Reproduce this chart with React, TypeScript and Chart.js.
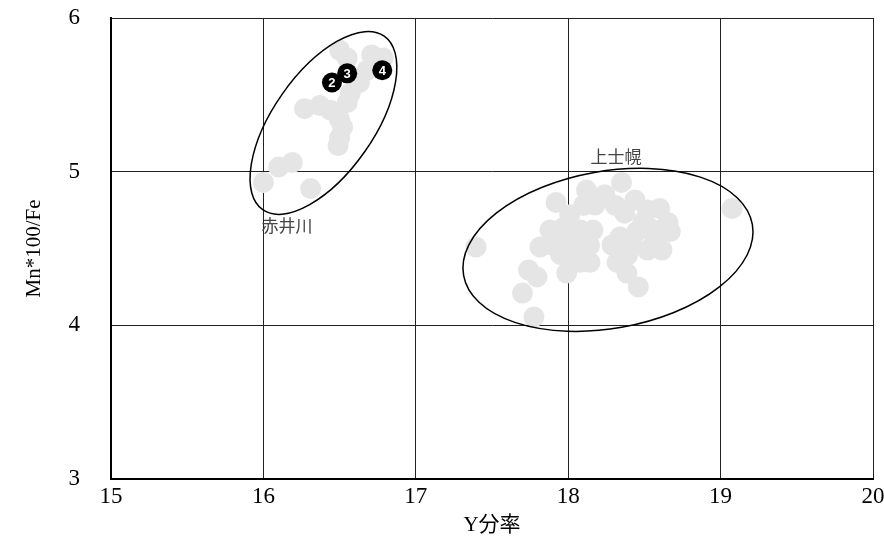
import { useEffect, useRef } from "react";
import { Chart, registerables } from "chart.js";
Chart.register(...registerables);

// 上士幌 group
const kamishihoroX = [17.395, 17.92, 18.01, 18.1, 17.88, 17.815, 17.98, 18.08, 18.14, 17.99, 18.08, 17.95, 17.74, 17.795, 17.7, 17.775, 18.12, 18.35, 18.24, 18.31, 18.37, 18.52, 18.6, 18.655, 18.67, 18.615, 18.52, 18.32, 18.385, 18.46, 18.34, 18.45, 18.54, 18.42, 19.075, 17.966, 18.045, 17.9, 18.163, 18.025, 18.143, 18.176, 18.438, 18.49, 18.57, 18.39, 18.287];
const kamishihoroY = [4.51, 4.8, 4.72, 4.78, 4.62, 4.51, 4.556, 4.62, 4.52, 4.34, 4.41, 4.46, 4.36, 4.315, 4.21, 4.055, 4.88, 4.93, 4.85, 4.78, 4.73, 4.75, 4.76, 4.67, 4.61, 4.49, 4.49, 4.41, 4.34, 4.25, 4.575, 4.61, 4.63, 4.52, 4.76, 4.634, 4.523, 4.52, 4.62, 4.425, 4.41, 4.783, 4.816, 4.673, 4.556, 4.458, 4.523];

// 赤井川 group
const akaigawaX = [16.5, 16.55, 16.71, 16.785, 16.68, 16.63, 16.57, 16.55, 16.27, 16.37, 16.44, 16.5, 16.5, 16.49, 16.0, 16.1, 16.19, 16.31, 16.52, 16.75];
const akaigawaY = [5.79, 5.74, 5.76, 5.74, 5.66, 5.58, 5.51, 5.45, 5.41, 5.43, 5.4, 5.34, 5.22, 5.17, 4.93, 5.03, 5.06, 4.89, 5.29, 5.7];

// numbered samples
const numberedX = [16.45, 16.55, 16.78];
const numberedY = [5.58, 5.64, 5.66];
const numberedLabels = ["2", "3", "4"];

// ticks
const xTicks = [15, 16, 17, 18, 19, 20];
const yTicks = [3, 4, 5, 6];

// group labels and ellipses
const groupLabels = ["赤井川", "上士幌"];
const groupLabelX = [16.155, 18.314];
const groupLabelY = [4.647, 5.096];
const ellipseCenterX = [16.394, 18.261];
const ellipseCenterY = [5.317, 4.491];
const ellipseSemiMajor = [0.695, 0.962];
const ellipseSemiMinor = [0.33, 0.516];
const ellipseAngleDeg = [55, 10];

const SERIF = "'Liberation Serif', 'Noto Sans CJK JP', serif";

export default function App() {
  const ref = useRef<HTMLCanvasElement | null>(null);
  useEffect(() => {
    if (!ref.current) return;
    const overlay = {
      id: "overlay",
      afterDatasetsDraw(chart: any) {
        const ctx = chart.ctx;
        const xs = chart.scales.x;
        const ys = chart.scales.y;
        const pxu = Math.abs(xs.getPixelForValue(1) - xs.getPixelForValue(0));
        ctx.save();
        // numbers in black dots
        const meta = chart.getDatasetMeta(2);
        ctx.fillStyle = "#fff";
        ctx.font = "bold 13px 'Liberation Sans', sans-serif";
        ctx.textAlign = "center";
        ctx.textBaseline = "middle";
        meta.data.forEach((el: any, i: number) => {
          ctx.fillText(numberedLabels[i], el.x, el.y + 1);
        });
        // ellipses
        ctx.strokeStyle = "#000";
        ctx.lineWidth = 1.5;
        for (let i = 0; i < ellipseCenterX.length; i++) {
          ctx.beginPath();
          ctx.ellipse(
            xs.getPixelForValue(ellipseCenterX[i]),
            ys.getPixelForValue(ellipseCenterY[i]),
            ellipseSemiMajor[i] * pxu,
            ellipseSemiMinor[i] * pxu,
            (-ellipseAngleDeg[i] * Math.PI) / 180,
            0,
            Math.PI * 2
          );
          ctx.stroke();
        }
        // group labels
        ctx.fillStyle = "#444";
        ctx.font = "17px 'Noto Sans CJK JP', sans-serif";
        for (let i = 0; i < groupLabels.length; i++) {
          ctx.fillText(groupLabels[i], xs.getPixelForValue(groupLabelX[i]), ys.getPixelForValue(groupLabelY[i]));
        }
        ctx.restore();
      },
    };
    const chart = new Chart(ref.current, {
      type: "scatter",
      data: {
        datasets: [
          {
            label: "上士幌",
            data: kamishihoroX.map((x, i) => ({ x, y: kamishihoroY[i] })),
            backgroundColor: "#e5e5e5",
            borderWidth: 0,
            pointRadius: 10.5,
            pointHoverRadius: 10.5,
            order: 2,
          },
          {
            label: "赤井川",
            data: akaigawaX.map((x, i) => ({ x, y: akaigawaY[i] })),
            backgroundColor: "#e5e5e5",
            borderWidth: 0,
            pointRadius: 10.5,
            pointHoverRadius: 10.5,
            order: 1,
          },
          {
            label: "No.",
            data: numberedX.map((x, i) => ({ x, y: numberedY[i] })),
            backgroundColor: "#000",
            borderWidth: 0,
            pointRadius: 10,
            pointHoverRadius: 10,
            order: 0,
          },
        ],
      },
      options: {
        responsive: false,
        animation: false,
        events: [],
        layout: { padding: { top: 18, right: 11, left: 0, bottom: 0 } },
        plugins: { legend: { display: false }, tooltip: { enabled: false } },
        scales: {
          x: {
            type: "linear",
            min: 15,
            max: 20,
            afterBuildTicks: (s: any) => {
              s.ticks = xTicks.map((v) => ({ value: v }));
            },
            afterFit: (s: any) => {
              s.height = 63;
              s.paddingLeft = 0;
              s.paddingRight = 0;
            },
            ticks: { font: { family: SERIF, size: 23 }, color: "#000", padding: 4, maxRotation: 0 },
            grid: { color: "#222", lineWidth: 1, drawTicks: false },
            border: { color: "#000", width: 2 },
            title: {
              display: true,
              text: "Y分率",
              color: "#000",
              font: { family: SERIF, size: 21 },
              padding: { top: 0, bottom: 4 },
            },
          },
          y: {
            type: "linear",
            min: 3,
            max: 6,
            afterBuildTicks: (s: any) => {
              s.ticks = yTicks.map((v) => ({ value: v }));
            },
            afterFit: (s: any) => {
              s.width = 111;
              s.paddingTop = 0;
              s.paddingBottom = 0;
            },
            ticks: { font: { family: SERIF, size: 23 }, color: "#000", padding: 31 },
            grid: { color: "#222", lineWidth: 1, drawTicks: false },
            border: { color: "#000", width: 2 },
            title: {
              display: true,
              text: "Mn*100/Fe",
              color: "#000",
              font: { family: SERIF, size: 21 },
              padding: { top: 22, bottom: 0 },
            },
          },
        },
      },
      plugins: [overlay],
    } as any);
    return () => chart.destroy();
  }, []);
  return (
    <div style={{ position: "fixed", left: 0, top: 0, width: 884, height: 542, background: "#fff" }}>
      <canvas ref={ref} width={884} height={542} style={{ display: "block" }} />
    </div>
  );
}
